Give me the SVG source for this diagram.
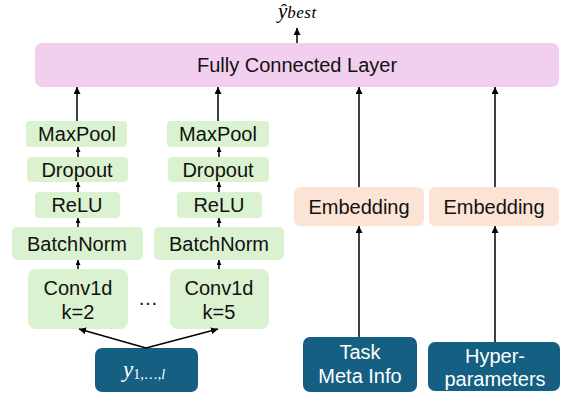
<svg xmlns="http://www.w3.org/2000/svg" width="561" height="395" viewBox="0 0 561 395">
<defs>
<marker id="ah" viewBox="0 0 10 10" refX="10" refY="5" markerWidth="7" markerHeight="7" markerUnits="userSpaceOnUse" orient="auto">
<path d="M0,0 L10,5 L0,10 z" fill="#000"/>
</marker>
<marker id="ahs" viewBox="0 0 10 10" refX="10" refY="5" markerWidth="5" markerHeight="5" markerUnits="userSpaceOnUse" orient="auto">
<path d="M0,0 L10,5 L0,10 z" fill="#000"/>
</marker>
<style>
.fc{fill:#f2cfee}
.g{fill:#daf2d0}
.e{fill:#fbe3d6}
.d{fill:#156082}
.t{font-family:"Liberation Sans",Arial,sans-serif;font-size:20px;fill:#111;text-anchor:middle;dominant-baseline:central}
.w{font-family:"Liberation Sans",Arial,sans-serif;font-size:20px;fill:#fff;text-anchor:middle}
.m{font-family:"Liberation Serif","DejaVu Serif",serif;font-style:italic}
.c line{stroke:#000;stroke-width:1.5;fill:none}
</style>
</defs>
<g id="output-label"><text class="m" x="278" y="18" font-size="21" fill="#000">ŷ<tspan font-size="17" dy="0" letter-spacing="0.5">best</tspan></text></g>
<g id="fc"><rect class="fc" x="35" y="43" width="524" height="44" rx="7"/><text class="t" x="297" y="65" font-size="20.7">Fully Connected Layer</text></g>

<g id="maxpool1"><rect class="g" x="26" y="121" width="101" height="26" rx="4"/><text class="t" x="77" y="134">MaxPool</text></g>
<g id="dropout1"><rect class="g" x="27" y="157" width="101" height="25" rx="4"/><text class="t" x="77" y="169.5">Dropout</text></g>
<g id="relu1"><rect class="g" x="35" y="192" width="85" height="26" rx="4"/><text class="t" x="77" y="205">ReLU</text></g>
<g id="batchnorm1"><rect class="g" x="12" y="227" width="131" height="33" rx="5"/><text class="t" x="77" y="243.5">BatchNorm</text></g>
<g id="conv1"><rect class="g" x="28" y="269" width="100" height="60" rx="8"/><text class="t" x="78" y="288">Conv1d</text><text class="t" x="78" y="312">k=2</text></g>

<g id="maxpool2"><rect class="g" x="167" y="121" width="102" height="26" rx="4"/><text class="t" x="218" y="134">MaxPool</text></g>
<g id="dropout2"><rect class="g" x="168" y="157" width="101" height="25" rx="4"/><text class="t" x="218" y="169.5">Dropout</text></g>
<g id="relu2"><rect class="g" x="177" y="192" width="85" height="26" rx="4"/><text class="t" x="219" y="205">ReLU</text></g>
<g id="batchnorm2"><rect class="g" x="154" y="227" width="130" height="33" rx="5"/><text class="t" x="219" y="243.5">BatchNorm</text></g>
<g id="conv2"><rect class="g" x="170" y="269" width="99" height="60" rx="8"/><text class="t" x="219" y="288">Conv1d</text><text class="t" x="219" y="312">k=5</text></g>
<g id="dots"><text class="t" x="148" y="298" font-size="17">…</text></g>

<g id="embed1"><rect class="e" x="294" y="187" width="130" height="39" rx="6"/><text class="t" x="359" y="206.5" font-size="20.5">Embedding</text></g>
<g id="embed2"><rect class="e" x="429" y="187" width="130" height="39" rx="6"/><text class="t" x="494" y="206.5" font-size="20.5">Embedding</text></g>

<g id="series"><rect class="d" x="95" y="348" width="103" height="44" rx="7"/><text class="m" x="123" y="377" font-size="23" fill="#fff">y<tspan font-style="normal" font-size="14" dy="2">1,…,</tspan><tspan font-size="14">l</tspan></text></g>
<g id="task"><rect class="d" x="303" y="337" width="114" height="55" rx="7"/><text class="w" x="360" y="359">Task</text><text class="w" x="360" y="383">Meta Info</text></g>
<g id="hyper"><rect class="d" x="428" y="342" width="132" height="49" rx="7"/><text class="w" x="495" y="363" font-size="20.5">Hyper-</text><text class="w" x="495" y="386" font-size="20.5">parameters</text></g>

<g id="connectors" class="c">
<line x1="297" y1="43" x2="297" y2="28" marker-end="url(#ah)"/>
<line x1="77" y1="121" x2="77" y2="87" marker-end="url(#ah)"/>
<line x1="218" y1="121" x2="218" y2="87" marker-end="url(#ah)"/>
<line x1="359" y1="187" x2="359" y2="87" marker-end="url(#ah)"/>
<line x1="495" y1="187" x2="495" y2="87" marker-end="url(#ah)"/>
<line x1="78" y1="157" x2="78" y2="147" marker-end="url(#ahs)"/>
<line x1="78" y1="192" x2="78" y2="182" marker-end="url(#ahs)"/>
<line x1="78" y1="227" x2="78" y2="218" marker-end="url(#ahs)"/>
<line x1="78" y1="269" x2="78" y2="260" marker-end="url(#ahs)"/>
<line x1="219" y1="157" x2="219" y2="147" marker-end="url(#ahs)"/>
<line x1="219" y1="192" x2="219" y2="182" marker-end="url(#ahs)"/>
<line x1="219" y1="227" x2="219" y2="218" marker-end="url(#ahs)"/>
<line x1="219" y1="269" x2="219" y2="260" marker-end="url(#ahs)"/>
<line x1="146" y1="348" x2="79" y2="329" marker-end="url(#ah)"/>
<line x1="146" y1="348" x2="218" y2="329" marker-end="url(#ah)"/>
<line x1="359" y1="337" x2="359" y2="226" marker-end="url(#ah)"/>
<line x1="495" y1="342" x2="495" y2="226" marker-end="url(#ah)"/>
</g>
</svg>
